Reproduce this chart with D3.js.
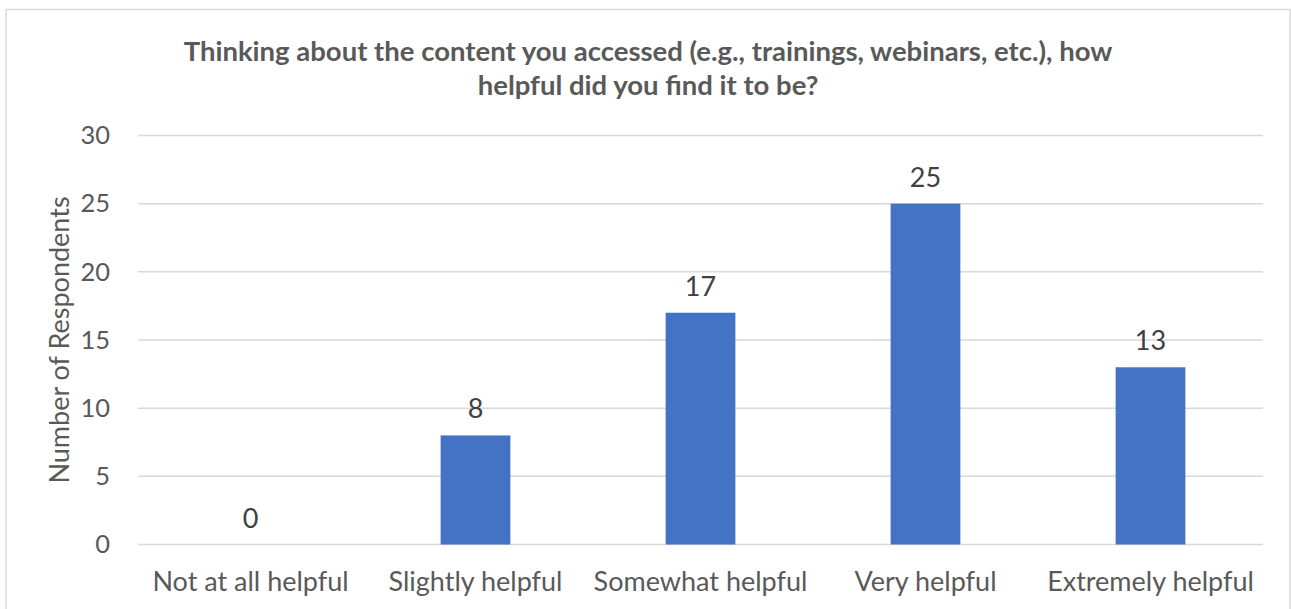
<!DOCTYPE html>
<html><head><meta charset="utf-8">
<script src="https://cdn.jsdelivr.net/npm/d3@7"></script>
<style>body{margin:0;background:#fff;} text{font-family:Lato,"Open Sans",sans-serif;}</style>
</head><body>
<svg id="c" width="1291" height="609"></svg>
<script>
const categories = ["Not at all helpful","Slightly helpful","Somewhat helpful","Very helpful","Extremely helpful"];
const values = [0,8,17,25,13];
const yTicks = [0,5,10,15,20,25,30];
const titleLines = ["Thinking about the content you accessed (e.g., trainings, webinars, etc.), how","helpful did you find it to be?"];
const yTitle = "Number of Respondents";

(function(){
const svg = d3.select("#c");
svg.append("rect").attr("x",6).attr("y",9.5).attr("width",1284).attr("height",620)
  .attr("fill","#fff").attr("stroke","#d9d9d9").attr("stroke-width",1.5);

const pLeft=138, pRight=1263, pTop=135.5, pBottom=544.5;
const x = d3.scaleBand().domain(categories).range([pLeft,pRight]).paddingInner(0.69).paddingOuter(0.345);
const y = d3.scaleLinear().domain([0,30]).range([pBottom,pTop]);

const grid = svg.append("g");
grid.selectAll("line").data(yTicks).join("line")
  .attr("x1",pLeft).attr("x2",pRight).attr("y1",d=>y(d)).attr("y2",d=>y(d))
  .attr("stroke","#d9d9d9").attr("stroke-width",1.5);

const yAxis = svg.append("g").attr("transform",`translate(${pLeft},0)`)
  .call(d3.axisLeft(y).tickValues(yTicks).tickSize(0).tickPadding(28));
yAxis.select(".domain").remove();
yAxis.selectAll("text").attr("font-size",25.5).attr("fill","#595959").style("font-family","Lato,'Open Sans',sans-serif");

const xAxis = svg.append("g").attr("transform",`translate(0,${pBottom})`)
  .call(d3.axisBottom(x).tickSize(0).tickPadding(0));
xAxis.select(".domain").remove();
xAxis.selectAll("text").attr("dy",null).attr("y",46).attr("font-size",27).attr("fill","#595959").style("font-family","Lato,'Open Sans',sans-serif");

svg.append("g").selectAll("rect").data(values).join("rect")
  .attr("x",(d,i)=>x(categories[i])).attr("width",x.bandwidth())
  .attr("y",d=>y(d)).attr("height",d=>y(0)-y(d)).attr("fill","#4472c4");

svg.append("g").selectAll("text").data(values).join("text")
  .attr("x",(d,i)=>x(categories[i])+x.bandwidth()/2).attr("y",d=>y(d)-17)
  .attr("text-anchor","middle").attr("font-size",27).attr("fill","#404040").text(d=>d);

svg.append("text").attr("transform",`translate(69,${(pTop+pBottom)/2}) rotate(-90)`)
  .attr("text-anchor","middle").attr("font-size",27).attr("fill","#595959").text(yTitle);

svg.append("g").selectAll("text").data(titleLines).join("text")
  .attr("x",648).attr("y",(d,i)=>61+i*34).attr("text-anchor","middle")
  .attr("font-size",27.5).attr("font-weight","bold").attr("fill","#595959").text(d=>d);
})();
</script>
</body></html>
